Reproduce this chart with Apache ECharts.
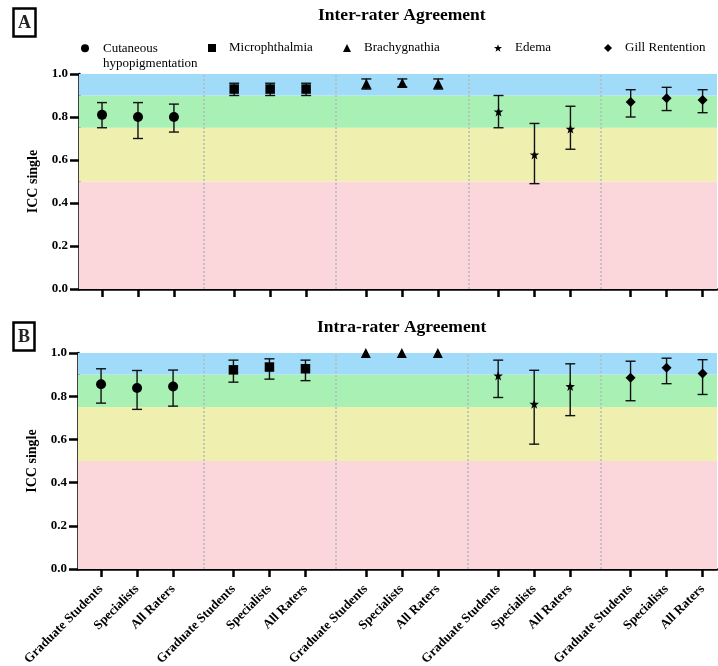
<!DOCTYPE html>
<html><head><meta charset="utf-8">
<script src="https://cdn.jsdelivr.net/npm/echarts@6/dist/echarts.min.js"></script>
<style>html,body{margin:0;padding:0;background:#fff}#c{width:718px;height:666px}</style>
</head><body><div id="c"></div>
<script>
// ---- data ----
const raters = ['Graduate Students', 'Specialists', 'All Raters'];
const phenotypes = ['Cutaneous hypopigmentation', 'Microphthalmia', 'Brachygnathia', 'Edema', 'Gill Rentention'];
const yTicks = [0, 0.2, 0.4, 0.6, 0.8, 1.0];
const bandEdges = [0, 0.5, 0.75, 0.9, 1.0];

// Inter-rater agreement (panel A): rows = phenotypes, cols = raters
const interMean = [[0.81, 0.80, 0.80], [0.93, 0.93, 0.93], [0.955, 0.958, 0.955], [0.825, 0.625, 0.745], [0.87, 0.887, 0.879]];
const interLow  = [[0.75, 0.70, 0.73], [0.90, 0.90, 0.90], [0.93, 0.94, 0.93], [0.75, 0.49, 0.65], [0.80, 0.83, 0.82]];
const interHigh = [[0.867, 0.867, 0.86], [0.957, 0.957, 0.957], [0.977, 0.977, 0.977], [0.90, 0.77, 0.85], [0.927, 0.938, 0.927]];

// Intra-rater agreement (panel B)
const intraMean = [[0.855, 0.838, 0.845], [0.922, 0.935, 0.927], [1.0, 1.0, 1.0], [0.895, 0.764, 0.846], [0.885, 0.932, 0.905]];
const intraLow  = [[0.768, 0.739, 0.754], [0.865, 0.879, 0.872], [1.0, 1.0, 1.0], [0.794, 0.578, 0.71], [0.779, 0.858, 0.808]];
const intraHigh = [[0.927, 0.919, 0.921], [0.967, 0.973, 0.967], [1.0, 1.0, 1.0], [0.967, 0.92, 0.95], [0.962, 0.976, 0.969]];

// ---- layout helpers ----
const GROUP_STEP = 3.675;
const xPos = [];
const xLab = [];
phenotypes.forEach((p, g) => raters.forEach((r, i) => { xPos.push(g * GROUP_STEP + i); xLab.push(r); }));
const dividers = [1, 2, 3, 4].map(g => ((g - 1) * GROUP_STEP + 2 + g * GROUP_STEP) / 2);

const symbols = [
  'circle', 'rect', 'triangle',
  'path://M0,-10L2.35,-3.24L9.51,-3.09L3.8,1.24L5.88,8.09L0,4L-5.88,8.09L-3.8,1.24L-9.51,-3.09L-2.35,-3.24Z',
  'path://M0,-10L10,0L0,10L-10,0Z'
];
const symSizes = [10, 9.5, 10, 9.5, 10];
const legendSizes = [8, 8, 8, 8, 8];
const bandColors = ['#fbd7dc', '#eff0b0', '#a8f0b4', '#a0dcf9'];
const SERIF = 'Liberation Serif';

function renderErr(params, api) {
  const x = api.value(0), lo = api.value(1), hi = api.value(2);
  if (lo === hi) return null;
  const a = api.coord([x, lo]), b = api.coord([x, hi]);
  const w = 5;
  const style = { stroke: '#111', lineWidth: 1.4, fill: null };
  return { type: 'group', children: [
    { type: 'line', shape: { x1: a[0], y1: a[1], x2: b[0], y2: b[1] }, style },
    { type: 'line', shape: { x1: b[0] - w, y1: b[1], x2: b[0] + w, y2: b[1] }, style },
    { type: 'line', shape: { x1: a[0] - w, y1: a[1], x2: a[0] + w, y2: a[1] }, style }
  ]};
}

function panelSeries(idx, mean, low, high) {
  const s = [];
  s.push({
    type: 'line', xAxisIndex: idx, yAxisIndex: idx, data: [], z: 0, silent: true,
    markArea: { silent: true, data: bandColors.map((c, k) => [
      { yAxis: bandEdges[k], itemStyle: { color: c, opacity: 1 } }, { yAxis: bandEdges[k + 1] }
    ]) },
    markLine: { silent: true, symbol: ['none', 'none'], label: { show: false },
      lineStyle: { color: '#b8b8b8', type: [2, 2], width: 1.5 },
      data: dividers.map(d => ({ xAxis: d })) }
  });
  const err = [];
  phenotypes.forEach((p, g) => raters.forEach((r, i) => err.push([g * GROUP_STEP + i, low[g][i], high[g][i]])));
  s.push({ type: 'custom', xAxisIndex: idx, yAxisIndex: idx, renderItem: renderErr, data: err, z: 3, silent: true,
    encode: { x: 0, y: [1, 2] } });
  phenotypes.forEach((p, g) => {
    s.push({
      type: 'scatter', name: p, xAxisIndex: idx, yAxisIndex: idx, z: 4, silent: true,
      symbol: symbols[g], symbolSize: symSizes[g], clip: false,
      itemStyle: { color: '#000', opacity: 1 },
      data: raters.map((r, i) => [g * GROUP_STEP + i, mean[g][i]])
    });
  });
  return s;
}

function xAxisCfg(idx, showLabels) {
  return {
    type: 'value', gridIndex: idx, min: -0.64, max: 17.1, splitLine: { show: false },
    axisLine: { show: true, onZero: false, lineStyle: { color: '#000', width: 2.5 } },
    axisTick: { show: true, customValues: xPos, length: 8, lineStyle: { color: '#000', width: 2.5 } },
    axisLabel: { show: showLabels, customValues: xPos, rotate: 45, margin: 18,
      fontFamily: SERIF, fontWeight: 'bold', fontSize: 13, color: '#000',
      formatter: v => { let best = 0; xPos.forEach((p, k) => { if (Math.abs(p - v) < Math.abs(xPos[best] - v)) best = k; }); return xLab[best]; } }
  };
}
function yAxisCfg(idx) {
  return {
    type: 'value', gridIndex: idx, min: yTicks[0], max: yTicks[yTicks.length - 1], interval: 0.2,
    splitLine: { show: false },
    axisLine: { show: true, onZero: false, lineStyle: { color: '#000', width: 2.5 } },
    axisTick: { show: true, length: 9, lineStyle: { color: '#000', width: 2.5 } },
    axisLabel: { margin: 11, fontFamily: SERIF, fontWeight: 'bold', fontSize: 13, color: '#000',
      formatter: v => v.toFixed(1) },
    name: 'ICC single', nameLocation: 'middle', nameGap: 34,
    nameTextStyle: { fontFamily: SERIF, fontWeight: 'bold', fontSize: 14, color: '#000' }
  };
}

const legendX = [81, 208, 343, 494, 604];
const legends = phenotypes.map((p, g) => ({
  data: [p], left: legendX[g], top: g === 0 ? 25 : 41.5, padding: 0,
  itemWidth: legendSizes[g], itemHeight: legendSizes[g], selectedMode: false,
  formatter: g === 0 ? (n => '\n' + n.replace(' ', '\n')) : undefined,
  textStyle: g === 0
    ? { fontFamily: SERIF, fontSize: 13, color: '#000', lineHeight: 15.5, padding: [0, 0, 0, 9] }
    : { fontFamily: SERIF, fontSize: 13, color: '#000', padding: [0, 0, 0, 8] }
}));

const chart = echarts.init(document.getElementById('c'), null, { renderer: 'canvas' });
chart.setOption({
  animation: false,
  backgroundColor: '#fff',
  title: [
    { text: 'A', left: 13, top: 8, padding: [6, 5, 5, 5], borderColor: '#000', borderWidth: 2.5,
      textStyle: { fontFamily: SERIF, fontWeight: 'bold', fontSize: 18, color: '#222' } },
    { text: 'B', left: 13, top: 322, padding: [6, 5, 5, 5], borderColor: '#000', borderWidth: 2.5,
      textStyle: { fontFamily: SERIF, fontWeight: 'bold', fontSize: 18, color: '#222' } },
    { text: 'Inter-rater Agreement', left: 318, top: 6, padding: 0,
      textStyle: { fontFamily: SERIF, fontWeight: 'bold', fontSize: 17.5, color: '#000' } },
    { text: 'Intra-rater Agreement', left: 317, top: 318, padding: 0,
      textStyle: { fontFamily: SERIF, fontWeight: 'bold', fontSize: 17.5, color: '#000' } }
  ],
  legend: legends,
  grid: [
    { left: 79, right: 1, top: 74, height: 215, outerBoundsMode: 'none', containLabel: false },
    { left: 78, right: 1, top: 353, height: 216, outerBoundsMode: 'none', containLabel: false }
  ],
  xAxis: [xAxisCfg(0, false), xAxisCfg(1, true)],
  yAxis: [yAxisCfg(0), yAxisCfg(1)],
  series: [...panelSeries(0, interMean, interLow, interHigh), ...panelSeries(1, intraMean, intraLow, intraHigh)]
});
</script>
</body></html>
